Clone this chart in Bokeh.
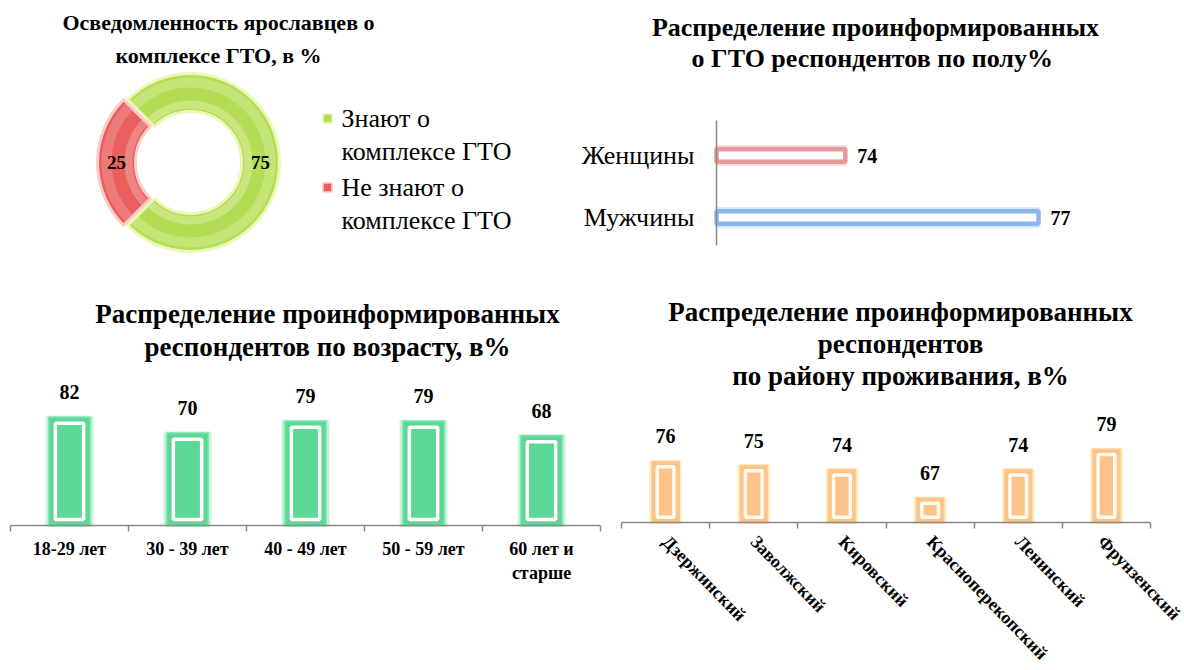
import math
from bokeh.plotting import figure
from bokeh.layouts import column, row
from bokeh.models import ColumnDataSource, Range1d, Label, FixedTicker, LinearAxis
from bokeh.core.properties import value
from bokeh.embed import file_html
from bokeh.resources import INLINE

SERIF = "Liberation Serif"

# ---------------- data ----------------
awareness_labels = ["Знают о\nкомплексе ГТО", "Не знают о\nкомплексе ГТО"]
awareness_values = [75, 25]

gender_labels = ["Мужчины", "Женщины"]
gender_values = [77, 74]

age_labels = ["18-29 лет", "30 - 39 лет", "40 - 49 лет", "50 - 59 лет", "60 лет и\nстарше"]
age_values = [82, 70, 79, 79, 68]

district_labels = ["Дзержинский", "Заволжский", "Кировский", "Красноперекопский", "Ленинский", "Фрунзенский"]
district_values = [76, 75, 74, 67, 74, 79]

title1 = ["Осведомленность ярославцев о", "комплексе ГТО, в %"]
title2 = ["Распределение проинформированных", "о ГТО  респондентов по полу%"]
title3 = ["Распределение проинформированных", "респондентов по возрасту, в%"]
title4 = ["Распределение проинформированных", "респондентов", "по району проживания, в%"]


def clean(p):
    p.grid.visible = False
    p.outline_line_color = None
    p.background_fill_color = "white"
    p.border_fill_color = "white"


class Mapper:
    """page pixel -> data coordinate for a frame (used only for placing titles / legend)"""
    def __init__(self, L, R, T, B, xr, yr):
        self.L, self.R, self.T, self.B, self.xr, self.yr = L, R, T, B, xr, yr

    def x(self, px):
        return self.xr[0] + (px - self.L) / (self.R - self.L) * (self.xr[1] - self.xr[0])

    def y(self, py):
        return self.yr[0] + (self.B - py) / (self.B - self.T) * (self.yr[1] - self.yr[0])


def add_title(p, m, lines, cx, ys, size):
    for t, y in zip(lines, ys):
        p.add_layout(Label(x=m.x(cx), y=m.y(y), text=t, text_font=SERIF, text_font_style="bold",
                           text_font_size=size, text_align="center", text_baseline="middle",
                           text_color="black"))


def make_fig(w, h, xr, yr):
    p = figure(width=w, height=h, x_range=Range1d(*xr), y_range=Range1d(*yr),
               output_backend="svg", toolbar_location=None,
               min_border_left=0, min_border_right=0, min_border_top=0, min_border_bottom=0,
               x_axis_location=None, y_axis_location=None)
    clean(p)
    return p


ROW1_H, ROW2_H = 278, 392
PAGE_H = ROW1_H + ROW2_H

# ---------------- 1: donut ----------------
xr1, yr1 = (0, 568), (0, ROW1_H)
p1 = make_fig(568, ROW1_H, xr1, yr1)
m1 = Mapper(0, 568, 0, ROW1_H, xr1, yr1)
cx, cy, r_in, r_out = m1.x(190), m1.y(162), 51, 89
total = sum(awareness_values)
acc = -3 * math.pi / 4
explode = [0, 4]
starts, ends, xs, ys, mids = [], [], [], [], []
for v, e in zip(awareness_values, explode):
    a0 = acc
    a1 = acc + v / total * 2 * math.pi
    mm = (a0 + a1) / 2
    starts.append(a0); ends.append(a1); mids.append(mm)
    xs.append(cx + e * math.cos(mm)); ys.append(cy + e * math.sin(mm))
    acc = a1
base_cols = ["#b3dd55", "#e95f5e"]
hi_cols = ["#e6f5b4", "#f7b3b0"]
rim_cols = ["#eef7b8", "#f9cdca"]
rmid = (r_in + r_out) / 2
src1 = ColumnDataSource(dict(x=xs, y=ys, s=starts, e=ends, c=base_cols, h=hi_cols, r=rim_cols,
                             val=[str(v) for v in awareness_values],
                             lx=[x + rmid * math.cos(a) for x, a in zip(xs, mids)],
                             ly=[y + rmid * math.sin(a) for y, a in zip(ys, mids)]))
p1.annular_wedge(x="x", y="y", inner_radius=r_in, outer_radius=r_out, start_angle="s", end_angle="e",
                 fill_color="c", line_color="r", line_width=3, source=src1)
p1.annular_wedge(x="x", y="y", inner_radius=r_in + 3, outer_radius=r_in + 11, start_angle="s", end_angle="e",
                 fill_color="h", fill_alpha=0.45, line_color=None, source=src1)
p1.annular_wedge(x="x", y="y", inner_radius=r_out - 14, outer_radius=r_out - 4, start_angle="s", end_angle="e",
                 fill_color="h", fill_alpha=0.35, line_color=None, source=src1)
p1.text(x="lx", y="ly", text="val", source=src1, text_font=value(SERIF), text_font_style="bold",
        text_font_size="19px", text_align="center", text_baseline="middle", text_color="black")
# legend
src_leg = ColumnDataSource(dict(x=[m1.x(327)] * 2, y=[m1.y(118), m1.y(187)],
                                tx=[m1.x(341)] * 2, ty=[m1.y(103), m1.y(172)],
                                lab=awareness_labels, c=base_cols, r=rim_cols))
p1.scatter(x="x", y="y", marker="square", size=9, fill_color="c", line_color="r", line_width=1.5, source=src_leg)
p1.text(x="tx", y="ty", text="lab", source=src_leg, text_font=value(SERIF), text_font_size="26px",
        text_align="left", text_baseline="top", text_line_height=1.15, text_color="black")
add_title(p1, m1, title1, 218, [22, 55], "22px")

# ---------------- 2: gender ----------------
g_axis_min = 72          # value at the vertical axis
g_axis_px = 716          # page x of the vertical axis
g_px_unit = 64.4
P2_L, P2_R = 568, 1184
xr2 = (g_axis_min - (g_axis_px - P2_L) / g_px_unit, g_axis_min + (P2_R - g_axis_px) / g_px_unit)
cat_px = 62.0
yr2 = (0.5 - (ROW1_H - 217) / cat_px, 0.5 + 217 / cat_px)
p2 = make_fig(616, ROW1_H, xr2, yr2)
m2 = Mapper(P2_L, P2_R, 0, ROW1_H, xr2, yr2)
gy = [i + 0.5 for i in range(len(gender_labels))]
yax = LinearAxis(ticker=FixedTicker(ticks=gy, minor_ticks=[]),
                 major_label_overrides={c: l for c, l in zip(gy, gender_labels)},
                 bounds=(m2.y(245), m2.y(120)), fixed_location=g_axis_min)
yax.axis_line_color = "#8a8a8a"
yax.axis_line_width = 1.5
yax.major_tick_line_color = None
yax.major_tick_out = 0
yax.minor_tick_line_color = None
yax.major_label_text_font = SERIF
yax.major_label_text_font_size = "26px"
yax.major_label_text_color = "black"
yax.major_label_standoff = 22
p2.add_layout(yax, "left")
src2 = ColumnDataSource(dict(y=gy, v=gender_values, t=[str(v) for v in gender_values],
                             c=["#8cb7ea", "#e6989a"], g=["#d3e5fb", "#f7d6d7"]))
p2.hbar(y="y", left=g_axis_min, right="v", height=0.27, fill_color=None, line_color="g", line_width=4, source=src2)
p2.hbar(y="y", left=g_axis_min, right="v", height=0.2, fill_color="#fdfdfd", line_color="c", line_width=4.5, source=src2)
p2.text(x="v", y="y", text="t", source=src2, x_offset=12, text_font=value(SERIF), text_font_style="bold",
        text_font_size="20px", text_align="left", text_baseline="middle", text_color="black")
add_title(p2, m2, title2, 875, [27, 58], "26px")


# ---------------- bar chart helper ----------------
def cat_axis(p, labels, base, orientation="horizontal", standoff=8, size="18px"):
    n = len(labels)
    centers = [i + 0.5 for i in range(n)]
    ax = LinearAxis(ticker=FixedTicker(ticks=centers, minor_ticks=list(range(n + 1))),
                    major_label_overrides={c: l for c, l in zip(centers, labels)},
                    bounds=(0, n), fixed_location=base)
    ax.axis_line_color = "#8a8a8a"
    ax.axis_line_width = 1.5
    ax.major_tick_line_color = None
    ax.major_tick_out = 0
    ax.major_tick_in = 0
    ax.minor_tick_line_color = "#8a8a8a"
    ax.minor_tick_line_width = 1.5
    ax.minor_tick_out = 6
    ax.minor_tick_in = 0
    ax.major_label_text_font = SERIF
    ax.major_label_text_font_style = "bold"
    ax.major_label_text_font_size = size
    ax.major_label_text_color = "black"
    ax.major_label_standoff = standoff
    ax.major_label_orientation = orientation
    p.add_layout(ax, "below")
    return centers


# ---------------- 3: age ----------------
P3_L, P3_R = 0, 608
a_L, a_cat, a_axis_y = 10, 118.0, 525
age_min, age_px_unit = 0, 1.32
xr3 = ((P3_L - a_L) / a_cat, (P3_R - a_L) / a_cat)
yr3 = (age_min - (PAGE_H - a_axis_y) / age_px_unit, age_min + (a_axis_y - ROW1_H) / age_px_unit)
p3 = make_fig(608, ROW2_H, xr3, yr3)
m3 = Mapper(P3_L, P3_R, ROW1_H, PAGE_H, xr3, yr3)
xc3 = cat_axis(p3, age_labels, age_min, standoff=7)
w3, ix3, iy3 = 0.35, 0.055, 4.6
src3 = ColumnDataSource(dict(x=xc3, v=age_values, t=[str(v) for v in age_values],
                             vi=[v - iy3 for v in age_values]))
p3.vbar(x="x", top="v", bottom=age_min, width=w3 + 0.03, fill_color=None, line_color="#c4f3d8", line_width=3, source=src3)
p3.vbar(x="x", top="v", bottom=age_min, width=w3, fill_color="#5dd795", line_color="#79e4aa", line_width=1.5, source=src3)
p3.vbar(x="x", top="vi", bottom=age_min + iy3, width=w3 - 2 * ix3, fill_color=None, line_color="white", line_width=3.5, source=src3)
p3.text(x="x", y="v", text="t", source=src3, y_offset=-25, text_font=value(SERIF), text_font_style="bold",
        text_font_size="20px", text_align="center", text_baseline="middle", text_color="black")
add_title(p3, m3, title3, 327, [313, 346], "27px")

# ---------------- 4: district ----------------
P4_L, P4_R = 608, 1184
d_L, d_R, d_axis_y = 621, 1150, 522
d_min, d_px_unit = 61, 4.07
n4 = len(district_labels)
d_cat = (d_R - d_L) / n4
xr4 = ((P4_L - d_L) / d_cat, (P4_R - d_L) / d_cat)
yr4 = (d_min - (PAGE_H - d_axis_y) / d_px_unit, d_min + (d_axis_y - ROW1_H) / d_px_unit)
p4 = make_fig(576, ROW2_H, xr4, yr4)
m4 = Mapper(P4_L, P4_R, ROW1_H, PAGE_H, xr4, yr4)
xc4 = cat_axis(p4, district_labels, d_min, orientation=-0.80, standoff=10, size="18px")
w4, ix4, iy4 = 0.31, 0.06, 1.3
src4 = ColumnDataSource(dict(x=xc4, v=district_values, t=[str(v) for v in district_values],
                             vi=[v - iy4 for v in district_values]))
p4.vbar(x="x", top="v", bottom=d_min, width=w4 + 0.03, fill_color=None, line_color="#fff0c8", line_width=3, source=src4)
p4.vbar(x="x", top="v", bottom=d_min, width=w4, fill_color="#fcc48a", line_color="#fdc996", line_width=1.5, source=src4)
p4.vbar(x="x", top="vi", bottom=d_min + iy4, width=w4 - 2 * ix4, fill_color=None, line_color="#fffaf0", line_width=3.5, source=src4)
p4.text(x="x", y="v", text="t", source=src4, y_offset=-25, text_font=value(SERIF), text_font_style="bold",
        text_font_size="20px", text_align="center", text_baseline="middle", text_color="black")
add_title(p4, m4, title4, 900, [311, 343, 375], "27px")

layout = column(row(p1, p2), row(p3, p4))
open("out.html", "w").write(file_html(layout, INLINE))
